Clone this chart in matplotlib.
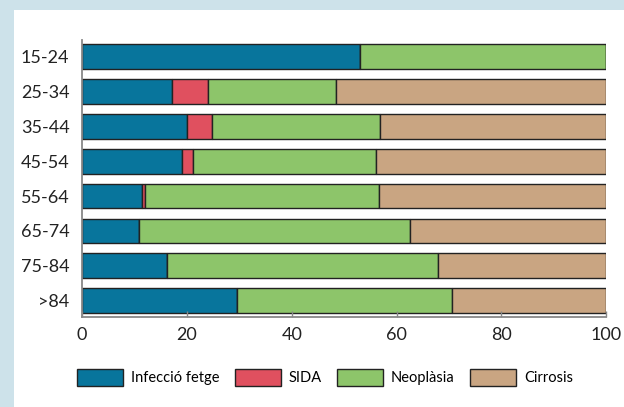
import numpy as np
from matplotlib import pyplot as plt
from matplotlib.patches import Rectangle

plt.rcParams['font.family'] = ['Lato', 'DejaVu Sans']

groups    = ['15-24', '25-34', '35-44', '45-54', '55-64', '65-74', '75-84', '>84']
infeccio  = [53.1, 17.2, 20.0, 19.1, 11.4, 10.9, 16.2, 29.5]
sida      = [0.0, 6.9, 4.7, 2.0, 0.7, 0.0, 0.0, 0.0]
neoplasia = [46.9, 24.3, 32.2, 35.0, 44.6, 51.6, 51.7, 41.0]
cirrosi   = [0.0, 51.6, 43.1, 43.9, 43.3, 37.5, 32.1, 29.5]

labels = ['Infecció fetge', 'SIDA', 'Neoplàsia', 'Cirrosis']
colors = ['#08759c', '#e0505f', '#8dc56a', '#c9a582']
series = [infeccio, sida, neoplasia, cirrosi]

fig = plt.figure(figsize=(6.24, 4.07), dpi=100)
fig.patch.set_facecolor('#cde2ea')
fig.patches.append(Rectangle((14/624, 0), 1, 1 - 10/407, transform=fig.transFigure,
                             facecolor='white', edgecolor='none', zorder=-10))

ax = fig.add_axes([82/624, 1 - 317.3/407, (606.3 - 82)/624, (317.3 - 40)/407])
ax.set_facecolor('none')

y = np.arange(len(groups))
left = np.zeros(len(groups))
for vals, lab, c in zip(series, labels, colors):
    vals = np.asarray(vals)
    ax.barh(y, vals, left=left, height=0.71, color=c, edgecolor='#222222',
            linewidth=1.0, label=lab)
    left += vals

ax.set_xlim(0, 100)
ax.set_ylim(7.48, -0.48)
ax.set_yticks(y)
ax.set_yticklabels(groups)
ax.set_xticks([0, 20, 40, 60, 80, 100])

for s in ['top', 'right']:
    ax.spines[s].set_visible(False)
for s in ['left', 'bottom']:
    ax.spines[s].set_color('#888888')
    ax.spines[s].set_linewidth(1.3)

ax.tick_params(axis='y', length=0, pad=9, labelsize=13, labelcolor='#222222')
ax.tick_params(axis='x', direction='in', length=4, width=1, color='#888888',
               pad=7, labelsize=13, labelcolor='#222222')

fig.legend(loc='center', bbox_to_anchor=(325/624, 1 - 377.5/407), ncol=4,
           frameon=False, fontsize=10.5, handlelength=3.15, handleheight=1.37,
           handletextpad=0.55, columnspacing=1.05, borderaxespad=0)

fig.savefig('out.png', dpi=100, facecolor=fig.get_facecolor())
